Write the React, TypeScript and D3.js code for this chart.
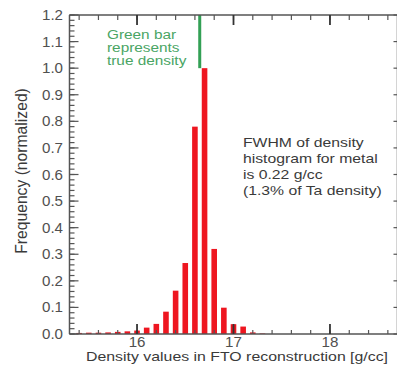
import React from "react";
import * as d3 from "d3";

// histogram bins (bin centre, g/cc) and normalized frequency
const binCenters = [
  15.4, 15.5, 15.6, 15.7, 15.8, 15.9, 16.0, 16.1, 16.2, 16.3, 16.4, 16.5,
  16.6, 16.7, 16.8, 16.9, 17.0, 17.1, 17.2, 17.3,
];
const frequency = [
  0.004, 0.005, 0.005, 0.006, 0.008, 0.01, 0.013, 0.024, 0.038, 0.084, 0.163,
  0.267, 0.78, 1.0, 0.32, 0.099, 0.037, 0.028, 0.006, 0.002,
];
const trueDensity = 16.65;
const trueBarRange = [1.0, 1.2];

const xMajorTicks = [16, 17, 18];
const yMajorTicks = [0, 0.1, 0.2, 0.3, 0.4, 0.5, 0.6, 0.7, 0.8, 0.9, 1.0, 1.1, 1.2];

const greenNote = ["Green bar", "represents", "true density"];
const fwhmNote = [
  "FWHM of density",
  "histogram for metal",
  "is 0.22 g/cc",
  "(1.3% of Ta density)",
];

const W = 397;
const H = 365;
const left = 69.5;
const right = 397.5;
const top = 15;
const bottom = 334;

const axisColor = "#555";
const textColor = "#3a3a3a";
const font = "'Liberation Sans', Arial, sans-serif";

const App: React.FC = () => {
  const x = d3.scaleLinear().domain([15.3, 18.7]).range([left, right]);
  const y = d3.scaleLinear().domain([0, 1.2]).range([bottom, top]);

  const halfBin = 0.029;
  const xMinor = d3.range(15.4, 18.7, 0.2).map((v) => +v.toFixed(2));
  const yMinor = d3.range(0, 1.2001, 0.02).map((v) => +v.toFixed(2));

  // the source text looks wide: stretch it horizontally
  const stretched = (
    tx: number,
    ty: number,
    s: string,
    size: number,
    sx: number,
    fill: string,
    anchor: "start" | "middle" | "end" = "start",
    key?: string,
  ) => (
    <g key={key ?? s} transform={`translate(${tx},${ty}) scale(${sx},1)`}>
      <text
        x={0}
        y={0}
        fontSize={size}
        fill={fill}
        fontFamily={font}
        textAnchor={anchor}
      >
        {s}
      </text>
    </g>
  );

  return (
    <svg
      width={W}
      height={H}
      style={{ position: "absolute", left: 0, top: 0, background: "#fff" }}
    >
      {/* bars */}
      {binCenters.map((c, i) => (
        <rect
          key={c}
          x={x(c - halfBin)}
          y={y(frequency[i])}
          width={x(c + halfBin) - x(c - halfBin)}
          height={bottom - y(frequency[i])}
          fill="#ee1620"
        />
      ))}
      <rect
        x={x(trueDensity) - 1.5}
        y={y(trueBarRange[1])}
        width={3}
        height={y(trueBarRange[0]) - y(trueBarRange[1])}
        fill="#33a055"
      />

      {/* frame */}
      <g stroke={axisColor} strokeWidth={1.5} fill="none">
        <line x1={left} x2={right} y1={top} y2={top} />
        <line x1={left} x2={right} y1={bottom} y2={bottom} />
        <line x1={left} x2={left} y1={top} y2={bottom} />
        <line x1={right} x2={right} y1={top} y2={bottom} />
      </g>

      {/* left + right ticks */}
      <g stroke={axisColor} strokeWidth={1.2}>
        {yMinor.map((v) => (
          <line key={"ym" + v} x1={left} x2={left + 5} y1={y(v)} y2={y(v)} />
        ))}
        {yMajorTicks.map((v) => (
          <line key={"yM" + v} x1={left} x2={left + 9} y1={y(v)} y2={y(v)} />
        ))}
        {yMajorTicks.map((v) => (
          <line key={"yr" + v} x1={right - 4} x2={right} y1={y(v)} y2={y(v)} />
        ))}
      </g>

      {/* bottom / top ticks */}
      <g stroke={axisColor} strokeWidth={1.2}>
        {xMinor.map((v) => (
          <g key={"xm" + v}>
            <line x1={x(v)} x2={x(v)} y1={bottom} y2={bottom - 4} />
            <line x1={x(v)} x2={x(v)} y1={top} y2={top + 5} />
          </g>
        ))}
        {xMajorTicks.map((v) => (
          <g key={"xM" + v} strokeWidth={1.8} stroke="#333">
            <line x1={x(v)} x2={x(v)} y1={bottom} y2={bottom - 10} />
            <line x1={x(v)} x2={x(v)} y1={top} y2={top + 10} />
          </g>
        ))}
      </g>

      {/* tick labels */}
      {yMajorTicks.map((v) =>
        stretched(63, y(v) + 5, v.toFixed(1), 14, 1.08, "#505050", "end", "yl" + v),
      )}
      {xMajorTicks.map((v) =>
        stretched(x(v), 347, String(v), 14, 1.08, "#505050", "middle", "xl" + v),
      )}

      {/* axis titles */}
      {stretched(
        237,
        361,
        "Density values in FTO reconstruction [g/cc]",
        12.8,
        1.24,
        textColor,
        "middle",
      )}
      <text
        transform={`translate(27,171) rotate(-90)`}
        fontSize={15.7}
        fill={textColor}
        fontFamily={font}
        textAnchor="middle"
      >
        Frequency (normalized)
      </text>

      {/* annotations */}
      {greenNote.map((s, i) =>
        stretched(107, 39 + i * 13, s, 12, 1.28, "#4aa564", "start", "g" + i),
      )}
      {fwhmNote.map((s, i) =>
        stretched(243, 147 + i * 16, s, 12.6, 1.25, textColor, "start", "f" + i),
      )}
    </svg>
  );
};

export default App;
